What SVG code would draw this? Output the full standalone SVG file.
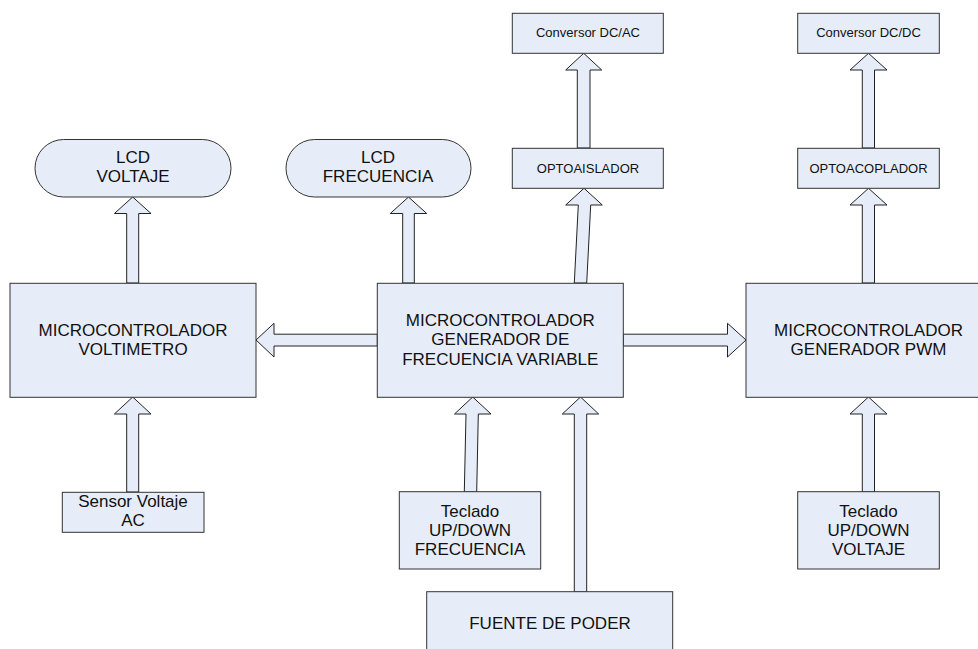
<svg xmlns="http://www.w3.org/2000/svg" width="978" height="649" viewBox="0 0 978 649">
<style>
.n{fill:#E7EDF8;stroke:#333;stroke-width:1}
.a{fill:#E7EDF8;stroke:#222;stroke-width:1;stroke-linejoin:miter}
.t{font-family:"Liberation Sans",Arial,sans-serif;font-size:17px;fill:#111;text-anchor:middle}
.s{font-family:"Liberation Sans",Arial,sans-serif;font-size:13px;fill:#111;text-anchor:middle}
</style>
<rect width="978" height="649" fill="#fff"/>
<g id="connectors">
<polygon class="a" points="132.7,197 151,213.5 138.7,213.5 138.7,283 126.7,283 126.7,213.5 114.4,213.5"/>
<polygon class="a" points="132.7,397 151,414 138.7,414 138.7,492 126.7,492 126.7,414 114.4,414"/>
<polygon class="a" points="408.5,197 426.7,213.5 414.3,213.5 414.3,283 402.7,283 402.7,213.5 390.3,213.5"/>
<polygon class="a" points="584,188.3 602.3,205 590.7,205 586.7,283 574.3,283 578.3,205 565.7,205"/>
<polygon class="a" points="583.7,53.3 601.7,70 590,70 590,148 577.3,148 577.3,70 565.7,70"/>
<polygon class="a" points="868.5,53.3 887,70 874.5,70 874.5,148 862.3,148 862.3,70 850,70"/>
<polygon class="a" points="868.5,188.3 887,205 874.5,205 874.5,283 862.3,283 862.3,205 850,205"/>
<polygon class="a" points="868.5,397 887,414 874.5,414 874.5,492 862.3,492 862.3,414 850,414"/>
<polygon class="a" points="472.7,397 491,414 478.3,414 476.7,492 464.3,492 466,414 454.5,414"/>
<polygon class="a" points="580.5,397 598.7,414 586.7,414 586.7,592 574.3,592 574.3,414 562.3,414"/>
<polygon class="a" points="256,340 274,323.3 274,334.2 377.3,334.2 377.3,346 274,346 274,357 "/>
<polygon class="a" points="746,340 727.5,323.3 727.5,334.2 623.3,334.2 623.3,346 727.5,346 727.5,357"/>
</g>
<g id="lcd-voltaje">
<rect class="n" x="35" y="139.5" width="196" height="57.5" rx="28.7" ry="28.7"/>
<text class="t" x="133" y="163">LCD</text>
<text class="t" x="133" y="182">VOLTAJE</text>
</g>
<g id="lcd-frecuencia">
<rect class="n" x="286" y="139.5" width="185" height="57.5" rx="28.7" ry="28.7"/>
<text class="t" x="378" y="163">LCD</text>
<text class="t" x="378" y="182">FRECUENCIA</text>
</g>
<g id="conversor-dcac">
<rect class="n" x="512.3" y="13.3" width="151" height="40"/>
<text class="s" x="588" y="37">Conversor DC/AC</text>
</g>
<g id="optoaislador">
<rect class="n" x="512.3" y="148.3" width="151" height="40"/>
<text class="s" x="588" y="172.5">OPTOAISLADOR</text>
</g>
<g id="conversor-dcdc">
<rect class="n" x="797.7" y="13.3" width="141.6" height="40"/>
<text class="s" x="868.5" y="37">Conversor DC/DC</text>
</g>
<g id="optoacoplador">
<rect class="n" x="797.7" y="148.3" width="141.6" height="40"/>
<text class="s" x="868.5" y="172.5">OPTOACOPLADOR</text>
</g>
<g id="mcu-voltimetro">
<rect class="n" x="10" y="283.3" width="246" height="114"/>
<text class="t" x="133" y="336">MICROCONTROLADOR</text>
<text class="t" x="133" y="355">VOLTIMETRO</text>
</g>
<g id="mcu-frecuencia">
<rect class="n" x="377.3" y="283.3" width="246" height="114"/>
<text class="t" x="500.3" y="325.5">MICROCONTROLADOR</text>
<text class="t" x="500.3" y="345">GENERADOR DE</text>
<text class="t" x="500.3" y="364.5">FRECUENCIA VARIABLE</text>
</g>
<g id="mcu-pwm">
<rect class="n" x="746" y="283.3" width="246" height="114"/>
<text class="t" x="868.5" y="335.5">MICROCONTROLADOR</text>
<text class="t" x="868.5" y="354.5">GENERADOR PWM</text>
</g>
<g id="sensor">
<rect class="n" x="62.3" y="492.3" width="141.7" height="40"/>
<text class="t" x="133" y="507">Sensor Voltaje</text>
<text class="t" x="133" y="526">AC</text>
</g>
<g id="teclado-frecuencia">
<rect class="n" x="399.3" y="491.7" width="141.4" height="77.3"/>
<text class="t" x="470" y="517">Teclado</text>
<text class="t" x="470" y="536">UP/DOWN</text>
<text class="t" x="470" y="555">FRECUENCIA</text>
</g>
<g id="teclado-voltaje">
<rect class="n" x="797.7" y="491.7" width="141.6" height="77.3"/>
<text class="t" x="868.5" y="517">Teclado</text>
<text class="t" x="868.5" y="536">UP/DOWN</text>
<text class="t" x="868.5" y="555">VOLTAJE</text>
</g>
<g id="fuente">
<rect class="n" x="426.7" y="591.7" width="246" height="70"/>
<text class="t" x="550" y="628.5">FUENTE DE PODER</text>
</g>
</svg>
